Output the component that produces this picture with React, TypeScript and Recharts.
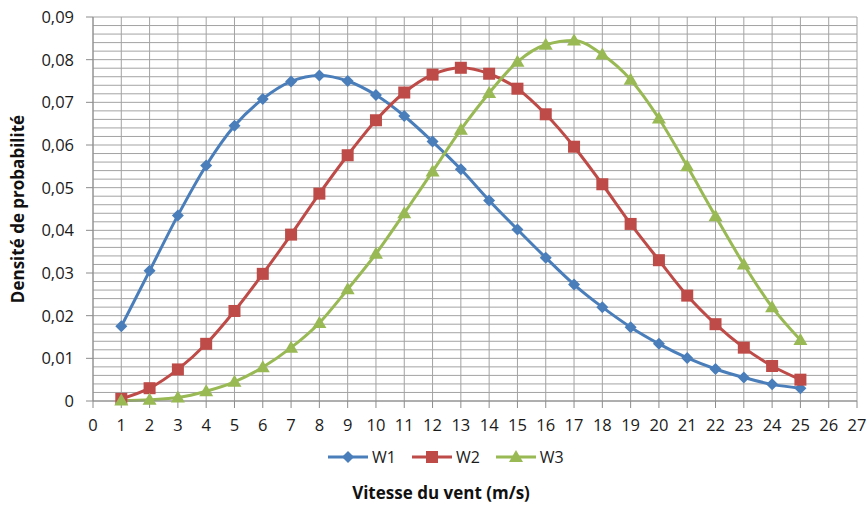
import { LineChart, Line, XAxis, YAxis, CartesianGrid, Legend, Label } from 'recharts';

const speeds = [1, 2, 3, 4, 5, 6, 7, 8, 9, 10, 11, 12, 13, 14, 15, 16, 17, 18, 19, 20, 21, 22, 23, 24, 25];
const w1 = [0.0175, 0.0305, 0.0435, 0.0552, 0.0645, 0.0708, 0.0749, 0.0763, 0.075, 0.0717, 0.0668, 0.0608, 0.0543, 0.047, 0.0402, 0.0336, 0.0273, 0.022, 0.0173, 0.0134, 0.0101, 0.0075, 0.0055, 0.0039, 0.003];
const w2 = [0.0005, 0.003, 0.0074, 0.0134, 0.0211, 0.0298, 0.039, 0.0486, 0.0576, 0.0658, 0.0723, 0.0765, 0.0781, 0.0767, 0.0732, 0.0672, 0.0596, 0.0508, 0.0415, 0.033, 0.0247, 0.018, 0.0125, 0.0082, 0.005];
const w3 = [0.0001, 0.0003, 0.0008, 0.0023, 0.0045, 0.0079, 0.0125, 0.0183, 0.0262, 0.0345, 0.044, 0.0538, 0.0636, 0.0722, 0.0795, 0.0835, 0.0845, 0.0812, 0.0753, 0.0662, 0.055, 0.0433, 0.032, 0.022, 0.0143];

const xTicks = [0, 1, 2, 3, 4, 5, 6, 7, 8, 9, 10, 11, 12, 13, 14, 15, 16, 17, 18, 19, 20, 21, 22, 23, 24, 25, 26, 27];
const yTicks = [0, 0.01, 0.02, 0.03, 0.04, 0.05, 0.06, 0.07, 0.08, 0.09];

const data = speeds.map((x, i) => ({ x, W1: w1[i], W2: w2[i], W3: w3[i] }));

const BLUE = '#4a7ebb';
const RED = '#be4b48';
const GREEN = '#98b954';
const GRID = '#a3a3a3';
const FONT = '"Open Sans", sans-serif';

const Diamond = ({ cx, cy, fill }: any) => (
  <polygon points={`${cx},${cy - 6} ${cx + 6},${cy} ${cx},${cy + 6} ${cx - 6},${cy}`} fill={fill} />
);
const Square = ({ cx, cy, fill }: any) => <rect x={cx - 6} y={cy - 6} width={12} height={12} fill={fill} />;
const Triangle = ({ cx, cy, fill }: any) => (
  <polygon points={`${cx},${cy - 7} ${cx + 7},${cy + 5} ${cx - 7},${cy + 5}`} fill={fill} />
);

const series = [
  { key: 'W1', color: BLUE, Marker: Diamond },
  { key: 'W2', color: RED, Marker: Square },
  { key: 'W3', color: GREEN, Marker: Triangle },
];

const fmtY = (v: number) => (v === 0 ? '0' : v.toFixed(2).replace('.', ','));

const LegendContent = () => (
  <div style={{ display: 'flex', justifyContent: 'flex-start', fontFamily: FONT, fontSize: 16, color: '#1a1a1a' }}>
    {series.map(({ key, color, Marker }) => (
      <div key={key} style={{ display: 'flex', alignItems: 'center', marginRight: 15 }}>
        <svg width={42} height={16}>
          <line x1={1} y1={8} x2={41} y2={8} stroke={color} strokeWidth={3} />
          <Marker cx={21} cy={8} fill={color} />
        </svg>
        <span style={{ marginLeft: 3 }}>{key}</span>
      </div>
    ))}
  </div>
);

export default function App() {
  return (
    <div style={{ position: 'absolute', left: 0, top: 0, background: '#fff' }}>
      <LineChart width={867} height={505} data={data} margin={{ top: 17, right: 10, left: 0, bottom: 4 }}>
        <CartesianGrid
          stroke={GRID}
          strokeWidth={1}
          horizontalCoordinatesGenerator={({ offset }: any) =>
            Array.from({ length: 46 }, (_, i) => offset.top + (offset.height * i) / 45)
          }
        />
        <XAxis
          dataKey="x"
          type="number"
          domain={[0, 27]}
          ticks={xTicks}
          interval={0}
          height={100}
          tickSize={7}
          tickMargin={11}
          axisLine={{ stroke: '#8c8c8c' }}
          tickLine={{ stroke: '#8c8c8c' }}
          tick={{ fill: '#1a1a1a', fontSize: 16.5, fontFamily: FONT }}
        >
          <Label
            content={() => (
              <text x={441} y={499} textAnchor="middle" fontFamily={FONT} fontSize={17} fontWeight="bold" fill="#111">
                Vitesse du vent (m/s)
              </text>
            )}
          />
        </XAxis>
        <YAxis
          domain={[0, 0.09]}
          ticks={yTicks}
          interval={0}
          width={93}
          tickSize={7}
          tickMargin={12}
          tickFormatter={fmtY}
          axisLine={{ stroke: '#8c8c8c' }}
          tickLine={{ stroke: '#8c8c8c' }}
          tick={{ fill: '#1a1a1a', fontSize: 16.5, fontFamily: FONT }}
        >
          <Label
            content={({ viewBox }: any) => {
              const cy = viewBox.y + viewBox.height / 2;
              return (
                <text
                  x={24}
                  y={cy}
                  transform={`rotate(-90, 24, ${cy})`}
                  textAnchor="middle"
                  fontFamily={FONT}
                  fontSize={17}
                  fontWeight="bold"
                  fill="#111"
                >
                  Densité de probabilité
                </text>
              );
            }}
          />
        </YAxis>
        <Legend
          layout="horizontal"
          verticalAlign="middle"
          content={<LegendContent />}
          wrapperStyle={{ top: 446, left: 327, width: 320 }}
        />
        {series.map(({ key, color, Marker }) => (
          <Line
            key={key}
            dataKey={key}
            type="monotone"
            stroke={color}
            strokeWidth={3}
            dot={(p: any) => <Marker key={`${key}-${p.index}`} cx={p.cx} cy={p.cy} fill={color} />}
            activeDot={false}
            isAnimationActive={false}
          />
        ))}
      </LineChart>
    </div>
  );
}
